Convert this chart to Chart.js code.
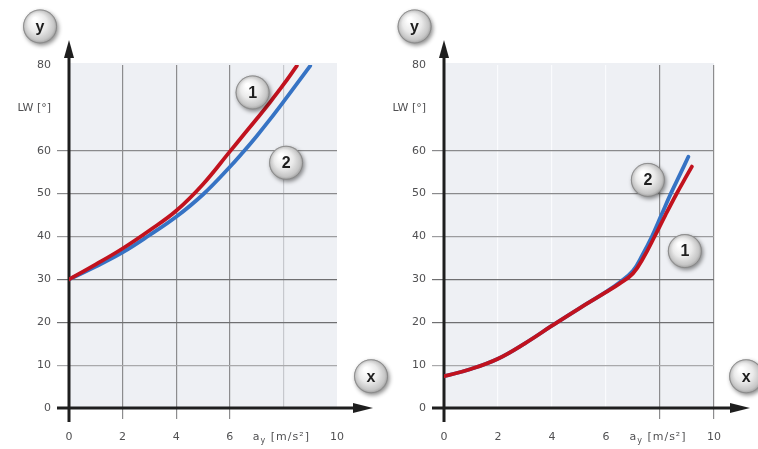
<!DOCTYPE html>
<html>
<head>
<meta charset="utf-8">
<script src="https://cdn.jsdelivr.net/npm/chart.js@4.4.0/dist/chart.umd.min.js"></script>
<style>
  html, body { margin: 0; padding: 0; background: #fff; }
  #wrap { position: relative; width: 758px; height: 449px; }
  #wrap canvas { position: absolute; left: 0; top: 0; }
</style>
</head>
<body>
<div id="wrap">
  <canvas id="left" width="758" height="449"></canvas>
  <canvas id="right" width="758" height="449"></canvas>
</div>
<script>
// axes
const xMin = 0, xMax = 10, xStep = 2;
const yMin = 0, yMax = 80, yStep = 10;
const yTitle = 'LW [°]';
const yTitleTick = 70;
const xTitleTick = 8;

// left diagram, curve 1 (red) and curve 2 (blue)
const leftRedX = [0, 1, 2, 3, 4, 5, 6, 6.5, 7, 7.5, 8, 8.5];
const leftRedY = [30, 33.5, 37.2, 41.4, 46, 52.2, 59.8, 63.6, 67.4, 71.3, 75.4, 79.8];
const leftBlueX = [0, 1, 2, 3, 4, 5, 6, 6.5, 7, 7.5, 8, 8.5, 9];
const leftBlueY = [30, 33, 36.3, 40.3, 44.6, 49.8, 56.2, 59.7, 63.4, 67.3, 71.4, 75.6, 79.8];

// right diagram
const rightRedX = [0, 1, 2, 3, 4, 5, 6, 6.5, 7, 7.4, 7.8, 8.2, 8.6, 9.0, 9.18];
const rightRedY = [7.4, 9.1, 11.5, 15.1, 19.2, 23.2, 27.0, 29.0, 31.4, 35.2, 40, 45, 49.8, 54.3, 56.3];
const rightBlueX = [0, 1, 2, 3, 4, 5, 6, 6.5, 7, 7.35, 7.7, 8.05, 8.4, 8.75, 9.05];
const rightBlueY = [7.4, 9.1, 11.5, 15.1, 19.2, 23.2, 27.1, 29.3, 32.0, 35.7, 40, 45, 50, 54.6, 58.6];

// round labels, in data units of each diagram
const leftBadgeText = ['y', 'x', '1', '2'];
const leftBadgeX = [-1.08, 11.27, 6.85, 8.1];
const leftBadgeY = [89, 7.4, 73.6, 57.2];
const rightBadgeText = ['y', 'x', '2', '1'];
const rightBadgeX = [-1.09, 11.19, 7.55, 8.92];
const rightBadgeY = [89, 7.4, 53.2, 36.6];

const RED = '#c1121e';
const BLUE = '#3673c4';
const FONT = "'DejaVu Sans', 'Liberation Sans', Arial, sans-serif";
const BADGE_FONT = "'Liberation Sans', Arial, sans-serif";
const TEXT = '#505052';

function toPoints(xs, ys) {
  return xs.map((x, i) => ({ x, y: ys[i] }));
}

function yGridColor(v) {
  if (v === 10) return '#a9a9ab';
  if (v === 20 || v === 30) return '#6f6f71';
  if (v === 40) return '#9c9c9e';
  if (v === 50 || v === 60) return '#8a8a8c';
  return 'rgba(0,0,0,0)';
}

function drawBadge(ctx, cx, cy, text) {
  const r = 17;
  ctx.save();
  ctx.shadowColor = 'rgba(0,0,0,0.45)';
  ctx.shadowBlur = 4;
  ctx.shadowOffsetX = 1.5;
  ctx.shadowOffsetY = 2;
  const g = ctx.createRadialGradient(cx - 5, cy - 7, 2, cx, cy, r);
  g.addColorStop(0, '#ffffff');
  g.addColorStop(0.5, '#eaeaea');
  g.addColorStop(0.85, '#c6c6c6');
  g.addColorStop(1, '#9c9c9c');
  ctx.beginPath();
  ctx.arc(cx, cy, r, 0, Math.PI * 2);
  ctx.fillStyle = g;
  ctx.fill();
  ctx.restore();
  ctx.save();
  ctx.beginPath();
  ctx.arc(cx, cy, r - 0.5, 0, Math.PI * 2);
  ctx.strokeStyle = 'rgba(120,120,120,0.6)';
  ctx.lineWidth = 1;
  ctx.stroke();
  ctx.fillStyle = '#1e1e1e';
  ctx.font = 'bold 16px ' + BADGE_FONT;
  ctx.textAlign = 'center';
  ctx.textBaseline = 'middle';
  ctx.fillText(text, cx, cy + 1);
  ctx.restore();
}

const decorPlugin = {
  id: 'decor',
  beforeDraw(chart) {
    const { ctx, chartArea: a } = chart;
    ctx.save();
    ctx.fillStyle = '#eef0f4';
    ctx.fillRect(a.left, a.top - 2, a.right - a.left, a.bottom - a.top + 2);
    ctx.restore();
  },
  beforeDatasetsDraw(chart) {
    const { ctx, chartArea: a, scales } = chart;
    const x0 = scales.x.getPixelForValue(0);
    const y0 = scales.y.getPixelForValue(0);
    ctx.save();
    ctx.strokeStyle = '#1e1e1e';
    ctx.fillStyle = '#1e1e1e';
    ctx.lineWidth = 3;
    // y axis with arrow
    const yTip = a.top - 25;
    ctx.beginPath();
    ctx.moveTo(x0, a.bottom + 14);
    ctx.lineTo(x0, yTip + 14);
    ctx.stroke();
    ctx.beginPath();
    ctx.moveTo(x0, yTip);
    ctx.lineTo(x0 - 5, yTip + 18);
    ctx.lineTo(x0 + 5, yTip + 18);
    ctx.closePath();
    ctx.fill();
    // x axis with arrow
    const xTip = a.right + 36;
    ctx.beginPath();
    ctx.moveTo(a.left - 12, y0);
    ctx.lineTo(xTip - 14, y0);
    ctx.stroke();
    ctx.beginPath();
    ctx.moveTo(xTip, y0);
    ctx.lineTo(xTip - 20, y0 - 5);
    ctx.lineTo(xTip - 20, y0 + 5);
    ctx.closePath();
    ctx.fill();
    ctx.restore();
  },
  afterDraw(chart) {
    const { ctx, scales } = chart;
    const o = chart.options.plugins.decor;
    // x axis title a_y [m/s²] in place of the tick label 8
    const cx = scales.x.getPixelForValue(xTitleTick) - 2;
    const ty = 437;
    ctx.save();
    ctx.fillStyle = TEXT;
    ctx.textBaseline = 'middle';
    ctx.textAlign = 'left';
    ctx.letterSpacing = '1px';
    ctx.font = '11px ' + FONT;
    const wA = ctx.measureText('a').width;
    ctx.font = '8px ' + FONT;
    const wY = ctx.measureText('y').width;
    ctx.font = '11px ' + FONT;
    const rest = ' [m/s²]';
    const wR = ctx.measureText(rest).width;
    let x = cx - (wA + wY + wR) / 2;
    ctx.fillText('a', x, ty);
    x += wA;
    ctx.font = '8px ' + FONT;
    ctx.fillText('y', x, ty + 4);
    x += wY;
    ctx.font = '11px ' + FONT;
    ctx.fillText(rest, x, ty);
    ctx.restore();
    // round labels
    o.text.forEach((t, i) => {
      drawBadge(ctx, scales.x.getPixelForValue(o.xs[i]), scales.y.getPixelForValue(o.ys[i]), t);
    });
  },
};

function makeChart(id, red, blue, pad, badges, xGrid, xTickCol) {
  return new Chart(document.getElementById(id), {
    type: 'line',
    data: {
      datasets: [
        { data: red, borderColor: RED, borderWidth: 3.8 },
        { data: blue, borderColor: BLUE, borderWidth: 3.8 },
      ],
    },
    options: {
      responsive: false,
      animation: false,
      devicePixelRatio: 1,
      layout: { padding: pad },
      elements: {
        point: { radius: 0 },
        line: { tension: 0.4, fill: false, borderCapStyle: 'round' },
      },
      plugins: {
        legend: { display: false },
        tooltip: { enabled: false },
        decor: badges,
      },
      scales: {
        x: {
          type: 'linear',
          min: xMin,
          max: xMax,
          afterFit(scale) { scale.height = 41; },
          border: { display: false },
          grid: {
            color: (c) => xGrid(c.tick.value),
            tickColor: (c) => xTickCol(c.tick.value),
            tickLength: 11,
            lineWidth: 1.2,
          },
          ticks: {
            stepSize: xStep,
            padding: 12,
            color: TEXT,
            font: { family: FONT, size: 11 },
            callback: (v) => (v === xTitleTick ? '' : String(v)),
          },
        },
        y: {
          type: 'linear',
          min: yMin,
          max: yMax,
          afterFit(scale) { scale.width = 69; },
          border: { display: false },
          grid: {
            color: (c) => yGridColor(c.tick.value),
            tickLength: 12,
            lineWidth: 1.2,
          },
          ticks: {
            stepSize: yStep,
            padding: 6,
            color: TEXT,
            font: { family: FONT, size: 11 },
            callback: (v) => (v === yTitleTick ? yTitle : String(v)),
          },
        },
      },
    },
    plugins: [decorPlugin],
  });
}

makeChart(
  'left',
  toPoints(leftRedX, leftRedY),
  toPoints(leftBlueX, leftBlueY),
  { left: 0, right: 421, top: 65, bottom: 0 },
  { text: leftBadgeText, xs: leftBadgeX, ys: leftBadgeY },
  (v) => (v === 8 ? '#c6c8cd' : (v > 0 && v < 8 ? '#8c8c8e' : 'rgba(0,0,0,0)')),
  (v) => (v > 0 && v < 8 ? '#8c8c8e' : 'rgba(0,0,0,0)')
);

makeChart(
  'right',
  toPoints(rightRedX, rightRedY),
  toPoints(rightBlueX, rightBlueY),
  { left: 375, right: 44, top: 65, bottom: 0 },
  { text: rightBadgeText, xs: rightBadgeX, ys: rightBadgeY },
  (v) => (v >= 8 ? '#8c8c8e' : (v > 0 ? '#fafbfd' : 'rgba(0,0,0,0)')),
  (v) => (v >= 8 ? '#8c8c8e' : 'rgba(0,0,0,0)')
);
</script>
</body>
</html>
